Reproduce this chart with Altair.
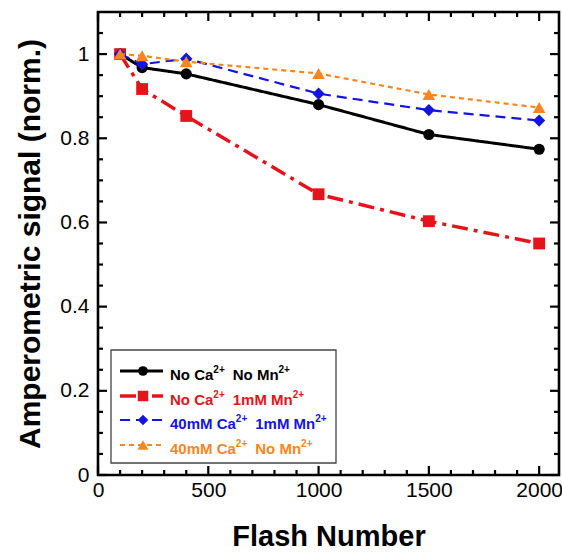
import altair as alt
import pandas as pd

# Flash numbers at which the amperometric signal was recorded
flash = [100, 200, 400, 1000, 1500, 2000]

# Normalised amperometric signal for each buffer condition
no_ca_no_mn = [1.0, 0.968, 0.953, 0.880, 0.809, 0.774]
no_ca_1mm_mn = [1.0, 0.917, 0.853, 0.667, 0.603, 0.550]
ca40_1mm_mn = [1.0, 0.976, 0.989, 0.906, 0.867, 0.842]
ca40_no_mn = [1.0, 0.996, 0.982, 0.954, 0.904, 0.873]

# legend labels split into (text, superscript) pieces
series_labels = [
    [("No Ca", False), ("2+", True), ("No Mn", False), ("2+", True)],
    [("No Ca", False), ("2+", True), ("1mM Mn", False), ("2+", True)],
    [("40mM Ca", False), ("2+", True), ("1mM Mn", False), ("2+", True)],
    [("40mM Ca", False), ("2+", True), ("No Mn", False), ("2+", True)],
]
series_values = [no_ca_no_mn, no_ca_1mm_mn, ca40_1mm_mn, ca40_no_mn]

x_major = [0, 500, 1000, 1500, 2000]
x_minor = [100, 200, 300, 400, 600, 700, 800, 900, 1100, 1200, 1300, 1400,
           1600, 1700, 1800, 1900]
y_major = [0, 0.2, 0.4, 0.6, 0.8, 1.0]
y_minor = [0.05, 0.1, 0.15, 0.25, 0.3, 0.35, 0.45, 0.5, 0.55, 0.65, 0.7, 0.75,
           0.85, 0.9, 0.95, 1.05]

# ---- layout / style ----
W, H = 461, 463
X_MAX, Y_MAX = 2090, 1.1
FONT = "Liberation Sans"


def px_x(p):
    """horizontal pixel offset inside the plot -> flash units"""
    return p * X_MAX / W


def px_y(p):
    """vertical pixel position (from top of plot) -> signal units"""
    return (H - p) * Y_MAX / H


styles = [
    dict(color="#000000", shape="circle", size=125, lw=3.0, dash=[1, 0], lsize=95),
    dict(color="#e3141b", shape="square", size=140, lw=3.5, dash=[16, 6, 4, 6], lsize=110),
    dict(color="#1414e0", shape="diamond", size=150, lw=2.2, dash=[10, 6], lsize=110),
    dict(color="#f7861e", shape="triangle-up", size=160, lw=2.2, dash=[5, 4], lsize=120),
]

xs = alt.Scale(domain=[0, X_MAX], nice=False, zero=False)
ys = alt.Scale(domain=[0, Y_MAX], nice=False, zero=False)

x_axis = alt.Axis(
    title="Flash Number", values=x_major, format="d", ticks=False, domain=False,
    grid=False, labelFlush=False, labelFontSize=21, labelFont=FONT, labelColor="black",
    labelPadding=4, titleFont=FONT, titleFontSize=29, titleFontWeight="bold",
    titleColor="black", titlePadding=22,
)
y_axis = alt.Axis(
    title="Amperometric signal (norm.)", values=y_major, format=".1~f", ticks=False,
    domain=False, grid=False, labelFontSize=21, labelFont=FONT, labelColor="black",
    labelPadding=9, titleFont=FONT, titleFontSize=30, titleFontWeight="bold",
    titleColor="black", titlePadding=14,
)


def X(field):
    return alt.X(field, type="quantitative", scale=xs, axis=x_axis)


def Y(field):
    return alt.Y(field, type="quantitative", scale=ys, axis=y_axis)


layers = []

# inward ticks on all four sides of the frame, one short segment per tick
tick_rows = []
for vals, length, tag in ((y_major, 9, "YM"), (y_minor, 5, "Ym")):
    d = px_x(length)
    for i, v in enumerate(vals):
        tick_rows += [{"tid": f"L{tag}{i}", "kx": 0.0, "ky": v},
                      {"tid": f"L{tag}{i}", "kx": d, "ky": v},
                      {"tid": f"R{tag}{i}", "kx": X_MAX, "ky": v},
                      {"tid": f"R{tag}{i}", "kx": X_MAX - d, "ky": v}]
for vals, length, tag in ((x_major, 9, "XM"), (x_minor, 5, "Xm")):
    d = Y_MAX - px_y(length)
    for i, v in enumerate(vals):
        tick_rows += [{"tid": f"B{tag}{i}", "kx": v, "ky": 0.0},
                      {"tid": f"B{tag}{i}", "kx": v, "ky": d},
                      {"tid": f"T{tag}{i}", "kx": v, "ky": Y_MAX},
                      {"tid": f"T{tag}{i}", "kx": v, "ky": Y_MAX - d}]

layers.append(
    alt.Chart(pd.DataFrame(tick_rows))
    .mark_line(color="#000000", strokeWidth=2.2)
    .encode(x=X("kx"), y=Y("ky"), detail="tid:N")
)

# data series: line underneath, markers on top
for vals, st in zip(series_values, styles):
    df = pd.DataFrame({"flash": flash, "signal": vals})
    base = alt.Chart(df)
    layers.append(
        base.mark_line(color=st["color"], strokeWidth=st["lw"], strokeDash=st["dash"])
        .encode(x=X("flash"), y=Y("signal"))
    )
    layers.append(
        base.mark_point(filled=True, opacity=1, shape=st["shape"], size=st["size"],
                        color=st["color"], strokeWidth=0)
        .encode(x=X("flash"), y=Y("signal"))
    )

# legend box in the lower-left corner
box = pd.DataFrame({"x0": [px_x(13)], "x1": [px_x(238)], "y0": [px_y(338)], "y1": [px_y(451)]})
layers.append(
    alt.Chart(box).mark_rect(fill="white", stroke="#444444", strokeWidth=1.3)
    .encode(x=X("x0"), x2="x1", y=Y("y0"), y2="y1")
)

# approximate Arial Bold advance widths (em) for laying out legend text pieces
ADV = {"N": .722, "o": .611, " ": .278, "C": .722, "a": .556, "M": .833, "n": .611,
       "m": .889, "1": .556, "4": .556, "0": .556, "2": .556, "+": .584}
MAIN_FS, SUP_FS = 15, 10


def text_width(s, fs):
    return sum(ADV.get(c, .6) for c in s) * fs


baselines = [368, 393, 417, 442]   # text baselines, px from plot top
TEXT_LEFT = 72                     # px from plot left
for pieces, st, base_y in zip(series_labels, styles, baselines):
    line_y = px_y(base_y - 9)
    seg = pd.DataFrame({"a": [px_x(22)], "b": [px_x(65)], "m": [px_x(45)], "ly": [line_y]})
    base = alt.Chart(seg)
    layers.append(
        base.mark_rule(color=st["color"], strokeWidth=st["lw"], strokeDash=st["dash"])
        .encode(x=X("a"), x2="b", y=Y("ly"))
    )
    layers.append(
        base.mark_point(filled=True, opacity=1, shape=st["shape"], size=st["lsize"],
                        color=st["color"], strokeWidth=0)
        .encode(x=X("m"), y=Y("ly"))
    )

    main_rows, sup_rows = [], []
    cursor = TEXT_LEFT
    for txt, sup in pieces:
        if sup:
            sup_rows.append({"tx": px_x(cursor), "ty": px_y(base_y - 7.5), "t": txt})
            cursor += text_width(txt, SUP_FS) + 8
        else:
            main_rows.append({"tx": px_x(cursor), "ty": px_y(base_y), "t": txt})
            cursor += text_width(txt, MAIN_FS)
    for rows, fs in ((main_rows, MAIN_FS), (sup_rows, SUP_FS)):
        layers.append(
            alt.Chart(pd.DataFrame(rows))
            .mark_text(align="left", baseline="alphabetic", font=FONT, fontSize=fs,
                       fontWeight="bold", color=st["color"])
            .encode(x=X("tx"), y=Y("ty"), text="t:N")
        )

chart = (
    alt.layer(*layers)
    .properties(
        width=W, height=H,
        autosize=alt.AutoSizeParams(type="none"),
        padding={"left": 98, "top": 12, "right": 3, "bottom": 77},
        background="white",
    )
    .configure_view(stroke="black", strokeWidth=2.6)
)

chart.save("out.html", embed_options={"renderer": "svg", "actions": False})
